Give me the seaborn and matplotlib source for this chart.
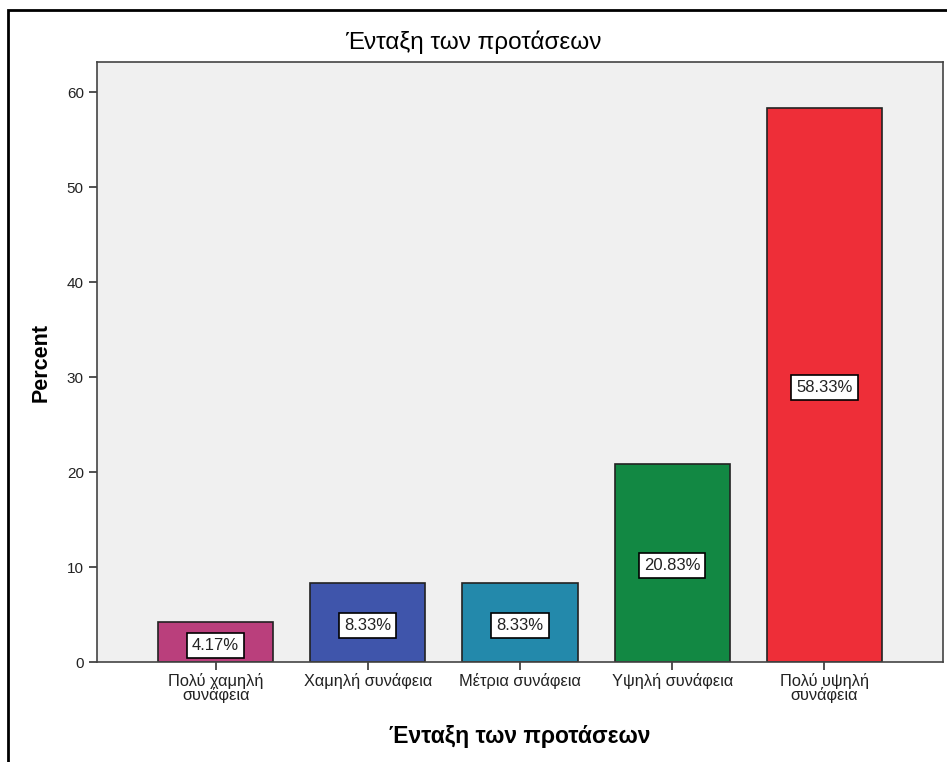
import matplotlib
matplotlib.use("Agg")
import matplotlib.pyplot as plt
import seaborn as sns
import pandas as pd
from matplotlib.patches import Rectangle

categories = ["Πολύ χαμηλή\nσυνάφεια", "Χαμηλή συνάφεια", "Μέτρια συνάφεια",
              "Υψηλή συνάφεια", "Πολύ υψηλή\nσυνάφεια"]
percents = [4.17, 8.33, 8.33, 20.83, 58.33]
colors = ["#BA3F7C", "#3F55AB", "#2389AB", "#128843", "#EE2E38"]

sns.set_style("ticks")
plt.rcParams['font.family'] = ['Liberation Sans', 'DejaVu Sans']
plt.rcParams.update({'text.color': 'black', 'axes.labelcolor': 'black',
                     'xtick.color': '#333333', 'ytick.color': '#333333'})

df = pd.DataFrame({"cat": categories, "pct": percents})

fig = plt.figure(figsize=(9.47, 7.62), dpi=100)
ax = fig.add_axes([0.1024, 0.1312, 0.8934, 0.7874])
ax.set_facecolor("#F0F0F0")

sns.barplot(data=df, x="cat", y="pct", hue="cat", palette=colors, legend=False,
            width=0.757, edgecolor="#222222", linewidth=1.2, saturation=1, ax=ax)

# value boxes in the middle of each bar
for i, v in enumerate(percents):
    ax.text(i, v / 2 - 0.3, f"{v:.2f}%", ha="center", va="center", fontsize=12,
            color="#222222",
            bbox=dict(boxstyle="square,pad=0.3", facecolor="white", edgecolor="black", linewidth=1.2))

ax.set_xlim(-0.78, 4.78)
ax.set_ylim(0, 63.2)
ax.set_yticks([0, 10, 20, 30, 40, 50, 60])
ax.tick_params(axis="both", labelcolor="#222222", length=6, width=1.2)
ax.tick_params(axis="x", labelsize=11.8, pad=2)
ax.tick_params(axis="y", labelsize=11)
for s in ax.spines.values():
    s.set_color("#444444")
    s.set_linewidth(1.2)
ax.set_xlabel("Ένταξη των προτάσεων", fontsize=16.5, fontweight="bold", labelpad=16)
ax.set_ylabel("Percent", fontsize=15.5, fontweight="bold", labelpad=11)
for lbl in ax.get_xticklabels():
    lbl.set_linespacing(0.85)

fig.text(0.5, 0.944, "Ένταξη των προτάσεων", ha="center", va="center", fontsize=17.5,
         fontweight="medium")

# outer frame
fig.patches.append(Rectangle((8 / 947, -0.05), 1.2, (762 - 10) / 762 + 0.05,
                             transform=fig.transFigure, fill=False,
                             edgecolor="black", linewidth=2))

fig.savefig("out.png", dpi=100)
